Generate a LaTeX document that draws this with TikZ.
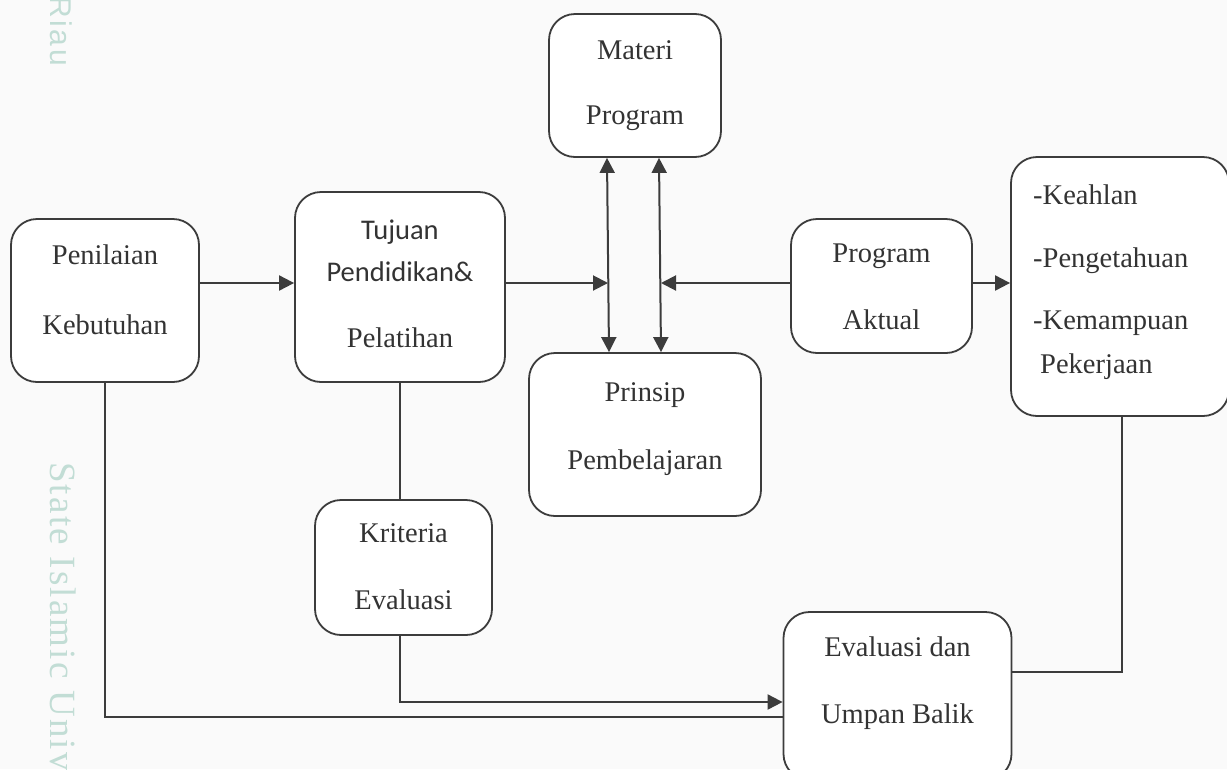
\documentclass[tikz,border=0pt]{standalone}
\usepackage{fontspec}
\setmainfont{Liberation Serif}
\newfontfamily\calib{Carlito}
\newfontfamily\wmserif{Liberation Serif}[LetterSpace=6]
\newfontfamily\wmsans{Liberation Sans}[LetterSpace=8]
\usetikzlibrary{arrows.meta}
\definecolor{ln}{HTML}{3C3C3C}
\definecolor{tx}{HTML}{333333}
\definecolor{wm}{HTML}{C2DDD5}
\tikzset{
  box/.style={draw=ln, line width=1.8pt, rounded corners=26pt, fill=white, inner sep=0pt},
  lbl/.style={text=tx, font=\fontsize{28.5}{30}\selectfont, inner sep=0pt, anchor=base},
  lbll/.style={lbl, anchor=base west},
  con/.style={draw=ln, line width=2pt},
  arr/.style={con, -{Triangle[length=15pt,width=15pt]}},
  darr/.style={con, {Triangle[length=15pt,width=15pt]}-{Triangle[length=15pt,width=15pt]}},
  side/.style={text=wm, rotate=-90, inner sep=0pt}
}
\begin{document}
\begin{tikzpicture}[x=1pt,y=-1pt]
\useasboundingbox (0,0) rectangle (1227,769);
\clip (0,0) rectangle (1227,769);
\fill[white!98!black] (0,0) rectangle (1227,769);
% side watermark text
\node[side, anchor=base east, font=\wmsans\fontsize{30}{32}\selectfont] (wm1) at (50,66) {Riau};
\node[side, anchor=base west, font=\wmserif\fontsize{37}{39}\selectfont] (wm2) at (50,462) {State Islamic University};
% boxes
\node[box, minimum width=188pt, minimum height=163pt] (pen) at (105,300.5) {};
\node[box, minimum width=210pt, minimum height=190pt] (tuj) at (400,287) {};
\node[box, minimum width=172pt, minimum height=143pt] (mat) at (635,85.5) {};
\node[box, minimum width=232pt, minimum height=163pt] (pri) at (645,434.5) {};
\node[box, minimum width=181pt, minimum height=134pt] (pro) at (881.5,286) {};
\node[box, minimum width=218pt, minimum height=259pt] (kea) at (1120,286.5) {};
\node[box, minimum width=177pt, minimum height=135pt] (kri) at (403.5,567.5) {};
\node[box, minimum width=228pt, minimum height=168pt] (eva) at (897.5,696) {};
% labels
\node[lbl] (t1) at (105,264) {Penilaian};
\node[lbl] (t2) at (105,334) {Kebutuhan};
\node[lbl] (t3) at (400,239) {\calib Tujuan};
\node[lbl] (t4) at (400,281) {\calib Pendidikan\&};
\node[lbl] (t5) at (400,347) {Pelatihan};
\node[lbl] (t6) at (635,59) {Materi};
\node[lbl] (t7) at (635,124) {Program};
\node[lbl] (t8) at (645,401) {Prinsip};
\node[lbl] (t9) at (645,469) {Pembelajaran};
\node[lbl] (t10) at (881.5,262) {Program};
\node[lbl] (t11) at (881.5,329) {Aktual};
\node[lbll] (t12) at (1033,204) {-Keahlan};
\node[lbll] (t13) at (1033,267) {-Pengetahuan};
\node[lbll] (t14) at (1033,329) {-Kemampuan};
\node[lbll] (t15) at (1040,373) {Pekerjaan};
\node[lbl] (t16) at (403.5,542) {Kriteria};
\node[lbl] (t17) at (403.5,609) {Evaluasi};
\node[lbl] (t18) at (897.5,656) {Evaluasi dan};
\node[lbl] (t19) at (897.5,723) {Umpan Balik};
% connectors
\coordinate (j1) at (608,283);
\coordinate (j2) at (661,283);
\draw[arr] (pen.east |- 0,283) -- (tuj.west |- 0,283);
\draw[arr] (tuj.east |- 0,283) -- (j1);
\draw[arr] (pro.west |- 0,283) -- (j2);
\draw[arr] (pro.east |- 0,283) -- (kea.west |- 0,283);
\draw[darr] (mat.south -| 607,0) -- (pri.north -| 609,0);
\draw[darr] (mat.south -| 659,0) -- (pri.north -| 661,0);
\draw[con] (tuj.south -| 400,0) -- (kri.north -| 400,0);
\draw[arr] (kri.south -| 400,0) |- (eva.west |- 0,702);
\draw[con] (pen.south) |- (eva.west |- 0,717);
\draw[con] (kea.south -| 1122,0) |- (eva.east |- 0,672);
\end{tikzpicture}
\end{document}
